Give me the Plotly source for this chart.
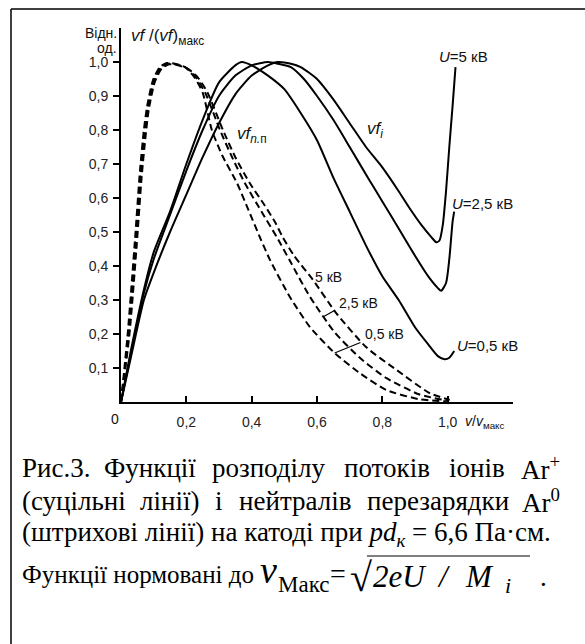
import plotly.graph_objects as go

# ---------------- data ----------------
# ions (solid lines)
v_ion_05 = [0, 0.03, 0.07, 0.10, 0.15, 0.20, 0.25, 0.30, 0.35, 0.37, 0.40, 0.45, 0.50, 0.55, 0.60, 0.65, 0.70, 0.75, 0.80, 0.85, 0.90, 0.94, 0.97, 0.99, 1.005, 1.02]
f_ion_05 = [0, 0.15, 0.33, 0.44, 0.56, 0.70, 0.83, 0.94, 0.99, 1.0, 0.99, 0.96, 0.92, 0.85, 0.77, 0.66, 0.56, 0.46, 0.37, 0.30, 0.22, 0.17, 0.135, 0.126, 0.13, 0.15]

v_ion_25 = [0, 0.03, 0.07, 0.10, 0.15, 0.20, 0.25, 0.30, 0.35, 0.40, 0.45, 0.48, 0.52, 0.56, 0.60, 0.65, 0.70, 0.76, 0.80, 0.85, 0.90, 0.94, 0.97, 0.98, 0.995, 1.005, 1.015, 1.02]
f_ion_25 = [0, 0.14, 0.32, 0.42, 0.55, 0.68, 0.80, 0.90, 0.96, 0.99, 1.0, 0.995, 0.985, 0.95, 0.90, 0.83, 0.75, 0.653, 0.59, 0.51, 0.43, 0.37, 0.335, 0.327, 0.35, 0.42, 0.53, 0.56]

v_ion_5 = [0, 0.03, 0.07, 0.10, 0.15, 0.20, 0.25, 0.30, 0.35, 0.40, 0.45, 0.48, 0.52, 0.55, 0.60, 0.65, 0.70, 0.75, 0.80, 0.85, 0.88, 0.92, 0.95, 0.965, 0.975, 0.985, 0.995, 1.005, 1.015, 1.024]
f_ion_5 = [0, 0.13, 0.30, 0.38, 0.50, 0.61, 0.72, 0.82, 0.905, 0.96, 0.99, 1.0, 0.995, 0.985, 0.95, 0.89, 0.82, 0.75, 0.69, 0.62, 0.575, 0.52, 0.485, 0.47, 0.475, 0.52, 0.62, 0.75, 0.87, 0.985]

# charge-exchange neutrals (dashed lines)
v_neu_05 = [0, 0.021, 0.043, 0.058, 0.07, 0.08, 0.098, 0.119, 0.14, 0.165, 0.196, 0.225, 0.25, 0.278, 0.31, 0.355, 0.39, 0.425, 0.456, 0.517, 0.578, 0.654, 0.731, 0.813, 0.914, 0.997]
f_neu_05 = [0, 0.206, 0.48, 0.68, 0.80, 0.87, 0.947, 0.985, 0.997, 0.995, 0.985, 0.955, 0.91, 0.80, 0.725, 0.644, 0.565, 0.485, 0.418, 0.309, 0.221, 0.144, 0.085, 0.035, 0.008, 0.002]

v_neu_25 = [0, 0.024, 0.046, 0.061, 0.073, 0.083, 0.101, 0.122, 0.145, 0.17, 0.2, 0.23, 0.26, 0.303, 0.34, 0.379, 0.43, 0.477, 0.52, 0.578, 0.654, 0.731, 0.813, 0.914, 1.0]
f_neu_25 = [0, 0.2, 0.47, 0.67, 0.79, 0.865, 0.945, 0.983, 0.995, 0.993, 0.983, 0.955, 0.905, 0.80, 0.72, 0.644, 0.56, 0.485, 0.41, 0.31, 0.205, 0.13, 0.07, 0.022, 0.004]

v_neu_5 = [0, 0.026, 0.048, 0.063, 0.075, 0.085, 0.103, 0.124, 0.148, 0.175, 0.205, 0.235, 0.265, 0.312, 0.35, 0.394, 0.44, 0.471, 0.495, 0.53, 0.587, 0.66, 0.752, 0.844, 0.945, 1.006]
f_neu_5 = [0, 0.2, 0.46, 0.66, 0.78, 0.86, 0.94, 0.98, 0.993, 0.99, 0.98, 0.955, 0.91, 0.80, 0.72, 0.644, 0.578, 0.53, 0.485, 0.43, 0.36, 0.26, 0.16, 0.094, 0.026, 0.006]

x_tickvals = [0.2, 0.4, 0.6, 0.8, 1.0]
x_ticktext = ["0,2", "0,4", "0,6", "0,8", "1,0"]
y_tickvals = [0.1, 0.2, 0.3, 0.4, 0.5, 0.6, 0.7, 0.8, 0.9, 1.0]
y_ticktext = ["0,1", "0,2", "0,3", "0,4", "0,5", "0,6", "0,7", "0,8", "0,9", "1,0"]

caption_line1 = ["Рис.3.", "Функції", "розподілу", "потоків", "іонів", "Ar<sup>+</sup>"]
caption_line2 = ["(суцільні", "лінії)", "і", "нейтралів", "перезарядки", "Ar<sup>0</sup>"]
caption_line3 = "(штрихові лінії) на катоді при <i>pd<sub>к</sub></i> = 6,6 Па·см."
caption_line4 = "Функції нормовані до"

# ---------------- layout geometry ----------------
W, H = 585, 644
L, R, T, B = 121, 72, 28, 242
PW, PH = W - L - R, H - T - B
XR, YR = [0, 1.2], [0, 1.1]


def px(x):
    return (x - L) / PW


def py(y):
    return (H - B - y) / PH


SANS = "Liberation Sans"
SERIF = "Liberation Serif"

fig = go.Figure()
solid = dict(color="black", width=2)
dashed = dict(color="black", width=2, dash="7px,4px")
for vx, fy in [(v_ion_05, f_ion_05), (v_ion_25, f_ion_25), (v_ion_5, f_ion_5)]:
    fig.add_trace(go.Scatter(x=vx, y=fy, mode="lines", line=dict(**solid, shape="spline", smoothing=0.6),
                             showlegend=False, hoverinfo="skip"))
for vx, fy in [(v_neu_05, f_neu_05), (v_neu_25, f_neu_25), (v_neu_5, f_neu_5)]:
    fig.add_trace(go.Scatter(x=vx, y=fy, mode="lines", line=dict(**dashed, shape="spline", smoothing=0.6),
                             showlegend=False, hoverinfo="skip"))

fig.update_layout(
    width=W, height=H,
    margin=dict(l=L, r=R, t=T, b=B, pad=0),
    paper_bgcolor="white", plot_bgcolor="white",
    showlegend=False,
    xaxis=dict(range=XR, showgrid=False, zeroline=False, showline=True, linecolor="black", linewidth=2,
               ticks="inside", ticklen=6, tickwidth=1.5, tickcolor="black",
               tickvals=x_tickvals, ticktext=x_ticktext, ticklabelstandoff=6,
               tickfont=dict(family=SANS, size=14, color="#222")),
    yaxis=dict(range=YR, showgrid=False, zeroline=False, showline=True, linecolor="black", linewidth=2,
               ticks="outside", ticklen=6, tickwidth=1.5, tickcolor="black",
               tickvals=y_tickvals, ticktext=y_ticktext, ticklabelstandoff=2,
               tickfont=dict(family=SANS, size=14, color="#222")),
)

ann = []


def add_px(text, x, y, size=14, family=SANS, xanchor="left", yanchor="middle", color="#111"):
    ann.append(dict(text=text, x=px(x), y=py(y), xref="paper", yref="paper", showarrow=False,
                    xanchor=xanchor, yanchor=yanchor, font=dict(family=family, size=size, color=color)))


def add_data(text, x, y, size=14, xanchor="left", yanchor="middle"):
    ann.append(dict(text=text, x=x, y=y, xref="x", yref="y", showarrow=False,
                    xanchor=xanchor, yanchor=yanchor, font=dict(family=SANS, size=size, color="#111")))


# axis titles
add_px("Відн.", 119, 33, size=14, xanchor="right")
add_px("од.", 119, 48, size=14, xanchor="right")
add_px("<i>vf</i> /(<i>vf</i>)<sub>макс</sub>", 129, 37, size=17)
add_px("0", 115, 419, size=14, xanchor="center")
add_px("<i>v</i>/<i>v</i><sub>макс</sub>", 463, 422, size=14)

# in-plot labels
add_data("<i>U</i>=5 кВ", 0.966, 1.015, size=15)
add_data("<i>U</i>=2,5 кВ", 1.006, 0.585, size=15)
add_data("<i>U</i>=0,5 кВ", 1.021, 0.165, size=15)
add_data("<i>vf<sub>i</sub></i>", 0.777, 0.80, size=17, xanchor="center")
add_data("<i>vf<sub>n.</sub></i><sub>п</sub>", 0.40, 0.785, size=17, xanchor="center")
add_data("5 кВ", 0.587, 0.368, size=14)
add_data("2,5 кВ", 0.661, 0.291, size=14)
add_data("0,5 кВ", 0.74, 0.20, size=14)

# caption (first two lines justified word by word)
CAP = 27
line1_x = [20, 150, 269, 387, 477, 562]
line2_x = [20, 169, 219, 295, 438, 562]
for words, xs, yy in [(caption_line1, line1_x, 468), (caption_line2, line2_x, 501)]:
    for k, (wd, xx) in enumerate(zip(words, xs)):
        anc = "left" if k == 0 else ("right" if k == len(words) - 1 else "center")
        add_px(wd, xx, yy, size=CAP, family=SERIF, xanchor=anc, color="#000")
add_px(caption_line3, 20, 534, size=CAP, family=SERIF, color="#000")
add_px(caption_line4, 20, 574, size=25, family=SERIF, color="#000")
add_px("<i>v</i>", 258, 570, size=38, family=SERIF, color="#000")
add_px("Макс", 276, 584, size=23, family=SERIF, color="#000")
add_px("=", 328, 573, size=28, family=SERIF, color="#000")
add_px("√", 348, 577, size=40, family=SERIF, color="#000")
add_px("<i>2eU</i>", 371, 576, size=31, family=SERIF, color="#000")
add_px("<i>/</i>", 443, 576, size=31, family=SERIF, color="#000", xanchor="center")
add_px("<i>M</i>", 463, 576, size=31, family=SERIF, color="#000")
add_px("<i>i</i>", 503, 585, size=22, family=SERIF, color="#000")
add_px(".", 538, 577, size=27, family=SERIF, color="#000")

fig.update_layout(annotations=ann)

shapes = [
    # frame (top and left)
    dict(type="line", xref="paper", yref="paper", x0=px(11), x1=px(585), y0=py(9), y1=py(9),
         line=dict(color="black", width=1.5)),
    dict(type="line", xref="paper", yref="paper", x0=px(11), x1=px(11), y0=py(9), y1=py(644),
         line=dict(color="black", width=1.5)),
    # sqrt overline
    dict(type="line", xref="paper", yref="paper", x0=px(367), x1=px(530), y0=py(556), y1=py(556),
         line=dict(color="black", width=1.2)),
    # leader lines for dashed labels
    dict(type="line", xref="x", yref="y", x0=0.618, x1=0.655, y0=0.25, y1=0.27,
         line=dict(color="black", width=1.2)),
    dict(type="line", xref="x", yref="y", x0=0.654, x1=0.733, y0=0.144, y1=0.175,
         line=dict(color="black", width=1.2)),
]
fig.update_layout(shapes=shapes)

fig.write_html("out.html")
